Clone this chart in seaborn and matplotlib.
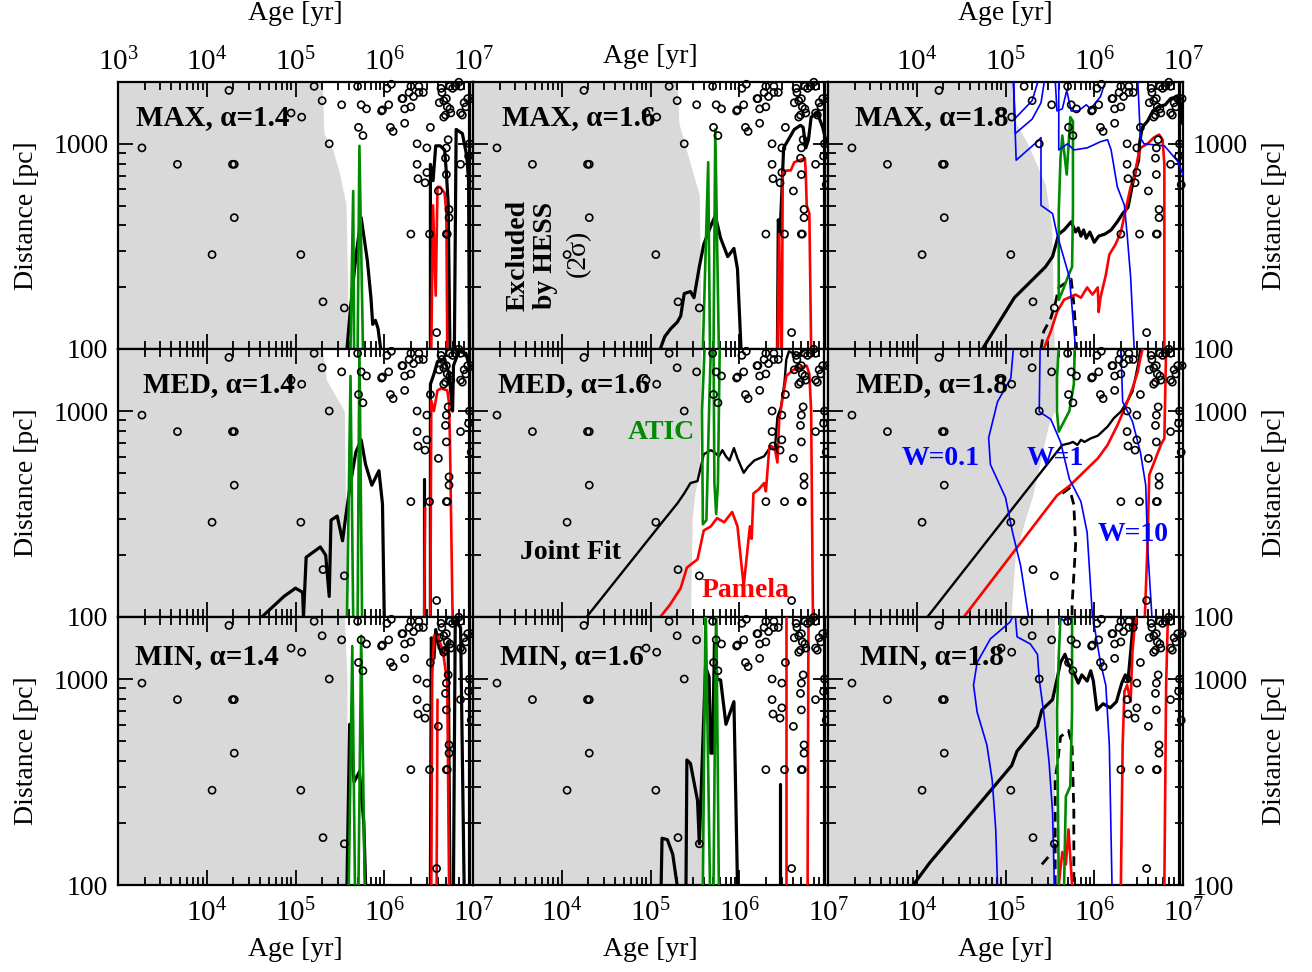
import numpy as np
import matplotlib
matplotlib.use("Agg")
import matplotlib.pyplot as plt
from matplotlib.ticker import FixedLocator
import seaborn as sns

# every curve is a list of (log10 age [yr], log10 distance [pc]) points

age_ticks = [1e3, 1e4, 1e5, 1e6, 1e7]
dist_ticks = [100, 1000]
dist_minor = [200, 300, 400, 500, 600, 700, 800, 900, 2000]

# nearby pulsars (same set in every panel)
pulsar_log_age = [3.27, 3.67, 4.29, 4.31, 4.31, 4.06, 4.25, 4.95, 5.07, 5.06, 5.21, 5.30, 5.38,
                  5.31, 5.55, 5.52, 5.70, 5.71, 5.76, 5.74, 5.80, 5.97, 5.98, 6.05, 6.03, 6.08,
                  6.07, 6.10, 6.20, 6.21, 6.23, 6.30, 6.23, 6.30, 6.39, 6.28, 6.39, 6.33, 6.44,
                  6.37, 6.37, 6.38, 6.48, 6.46, 6.48, 6.52, 6.30, 6.51, 6.70, 6.71, 6.59, 6.61,
                  6.73, 6.86, 6.70, 6.72, 6.69, 6.70, 6.62, 6.67, 6.70, 6.65, 6.74, 6.80, 6.86,
                  6.84, 6.71, 6.74, 6.69, 6.67, 6.75, 6.92, 6.99, 6.88, 6.90, 6.95, 6.96, 6.98,
                  6.64, 6.77, 6.94, 6.86, 6.73]
pulsar_log_dist = [2.98, 2.90, 2.90, 2.90, 2.64, 2.46, 3.26, 3.15, 3.13, 2.46, 3.28, 3.21, 3.00,
                   2.23, 2.20, 3.19, 3.28, 3.08, 3.04, 3.19, 3.17, 3.16, 3.165, 3.19, 3.27, 3.29,
                   3.08, 3.06, 3.22, 3.22, 3.17, 3.18, 3.10, 3.28, 3.28, 3.25, 3.25, 3.23, 3.25,
                   3.00, 2.90, 2.83, 2.98, 2.81, 2.86, 3.08, 2.56, 2.56, 2.56, 2.56, 2.08, 2.77,
                   2.64, 2.90, 2.98, 3.02, 2.93, 2.85, 3.20, 3.21, 3.22, 3.25, 3.28, 3.28, 3.28,
                   3.30, 3.18, 3.17, 3.14, 3.13, 3.15, 3.18, 3.22, 3.14, 3.20, 2.94, 3.00, 2.80,
                   3.27, 3.27, 3.22, 3.15, 2.68]

edge_contour = [(6.96, 2.0), (6.96, 3.31)]

# ---------------- MAX, alpha = 1.4
max14_gray = [(5.60, 2.0), (5.57, 2.7), (5.50, 2.85), (5.42, 2.97), (5.32, 3.05), (5.30, 3.31)]
max14_black_a = [(5.58, 2.0), (5.62, 2.2), (5.68, 2.45), (5.74, 2.64), (5.78, 2.52), (5.81, 2.43),
                 (5.85, 2.25), (5.87, 2.12), (5.90, 2.14), (5.93, 2.10), (5.96, 2.0)]
max14_black_b = [(6.52, 2.0), (6.52, 2.90), (6.55, 2.82), (6.58, 2.99), (6.63, 2.99), (6.68, 2.97),
                 (6.70, 2.86), (6.72, 2.71), (6.74, 2.0)]
max14_black_c = [(6.79, 2.0), (6.81, 3.07), (6.88, 3.05), (6.93, 2.94), (6.95, 2.82), (6.96, 2.0)]
max14_red = [(6.53, 2.0), (6.55, 2.70), (6.58, 2.26), (6.60, 2.79), (6.63, 2.79), (6.68, 2.76),
             (6.70, 2.66), (6.71, 2.0)]
max14_green_a = [(5.62, 2.0), (5.65, 2.77), (5.66, 2.0)]
max14_green_b = [(5.70, 2.0), (5.72, 2.99), (5.76, 2.0)]

# ---------------- MAX, alpha = 1.6
max16_gray = [(5.57, 2.0), (5.55, 2.75), (5.45, 2.9), (5.32, 3.1), (5.30, 3.31)]
max16_black_a = [(5.11, 2.0), (5.16, 2.06), (5.23, 2.10), (5.30, 2.13), (5.34, 2.16), (5.38, 2.27),
                 (5.45, 2.28), (5.49, 2.25), (5.55, 2.40), (5.60, 2.51), (5.68, 2.60), (5.73, 2.65),
                 (5.79, 2.54), (5.87, 2.45), (5.94, 2.49), (5.98, 2.39), (6.02, 2.0)]
max16_black_b = [(6.43, 2.0), (6.44, 2.63), (6.46, 2.56), (6.50, 2.98), (6.54, 3.01), (6.62, 3.07),
                 (6.69, 3.09), (6.72, 3.08), (6.75, 2.98), (6.78, 3.02), (6.81, 3.13), (6.88, 3.15),
                 (6.94, 3.08), (6.98, 3.01)]
max16_red_a = [(6.43, 2.0), (6.45, 2.56), (6.47, 2.0)]
max16_red_b = [(6.48, 2.0), (6.49, 2.86), (6.54, 2.87), (6.58, 2.87), (6.62, 2.91), (6.74, 2.93),
               (6.75, 2.85), (6.76, 2.70), (6.79, 2.66), (6.81, 2.0)]
max16_green_a = [(5.59, 2.0), (5.65, 2.91), (5.67, 2.0)]
max16_green_b = [(5.71, 2.0), (5.73, 3.07), (5.77, 2.0)]

# ---------------- MAX, alpha = 1.8
max18_gray = [(5.55, 2.0), (5.52, 2.6), (5.45, 2.8), (5.35, 2.9), (5.25, 3.0), (5.12, 3.1),
              (5.10, 3.31)]
max18_black = [(4.74, 2.0), (5.10, 2.25), (5.45, 2.40), (5.53, 2.45), (5.60, 2.56), (5.66, 2.58),
               (5.74, 2.62), (5.79, 2.57), (5.82, 2.59), (5.85, 2.55), (5.88, 2.58), (5.91, 2.54),
               (5.95, 2.57), (6.00, 2.52), (6.05, 2.55), (6.12, 2.56), (6.19, 2.58), (6.26, 2.62),
               (6.32, 2.66), (6.38, 2.69), (6.43, 2.80), (6.46, 2.86), (6.50, 2.92), (6.51, 3.0),
               (6.54, 3.08), (6.60, 3.11), (6.66, 3.16), (6.72, 3.18), (6.80, 3.19), (6.86, 3.22),
               (6.93, 3.23), (6.97, 3.20), (6.99, 3.10)]
max18_dashed = [(5.40, 2.0), (5.43, 2.085), (5.51, 2.15), (5.56, 2.22), (5.60, 2.30), (5.74, 2.34),
                (5.77, 2.22), (5.79, 2.10), (5.80, 2.0)]
max18_red = [(5.43, 2.0), (5.51, 2.085), (5.58, 2.18), (5.66, 2.24), (5.79, 2.265), (5.85, 2.25),
             (5.92, 2.30), (5.98, 2.265), (6.04, 2.30), (6.05, 2.18), (6.07, 2.25), (6.13, 2.36),
             (6.17, 2.46), (6.24, 2.51), (6.30, 2.57), (6.35, 2.67), (6.41, 2.79), (6.45, 2.83),
             (6.49, 2.93), (6.52, 2.98), (6.60, 3.00), (6.67, 3.03), (6.73, 3.045), (6.77, 3.02),
             (6.79, 2.90), (6.79, 2.0)]
max18_green = [(5.60, 2.24), (5.60, 2.67), (5.62, 2.93), (5.64, 3.04), (5.69, 2.85), (5.73, 3.13),
               (5.76, 3.11), (5.76, 2.67), (5.75, 2.40), (5.71, 2.36), (5.64, 2.28), (5.60, 2.24)]
max18_blue_a = [(5.09, 3.31), (5.10, 3.12), (5.30, 3.21), (5.37, 3.31)]
max18_blue_b = [(5.09, 3.31), (5.11, 3.05), (5.30, 3.12), (5.40, 3.20), (5.44, 3.31)]
max18_blue_c = [(5.09, 3.31), (5.12, 2.92), (5.33, 3.0), (5.40, 3.03), (5.40, 2.70), (5.53, 2.66),
                (5.58, 2.56), (5.72, 2.35), (5.79, 2.0)]
max18_blue_d = [(5.56, 3.31), (5.58, 3.16), (5.64, 3.17), (5.69, 3.26), (5.74, 3.16), (5.82, 3.16),
                (5.91, 3.19), (5.96, 3.17), (6.07, 3.23), (6.13, 3.31)]
max18_blue_e = [(5.60, 3.31), (5.60, 2.97), (5.70, 3.0), (5.77, 2.97), (5.92, 2.98), (6.07, 3.01),
                (6.15, 3.02), (6.19, 2.97), (6.26, 2.79), (6.34, 2.70), (6.37, 2.56), (6.41, 2.35),
                (6.45, 2.0)]
max18_blue_f = [(6.49, 3.31), (6.52, 3.03), (6.56, 3.0), (6.79, 2.99), (6.94, 2.915), (7.0, 2.85)]

# ---------------- MED, alpha = 1.4
med14_gray = [(5.58, 2.0), (5.55, 3.0), (5.35, 3.15), (5.30, 3.31)]
med14_black_a = [(4.62, 2.0), (4.87, 2.10), (5.00, 2.14), (5.08, 2.12), (5.09, 2.0), (5.12, 2.29),
                 (5.28, 2.34), (5.34, 2.30), (5.38, 2.10), (5.40, 2.47), (5.47, 2.49), (5.53, 2.37),
                 (5.57, 2.50), (5.62, 2.65), (5.68, 2.80), (5.74, 2.86), (5.79, 2.74), (5.86, 2.64),
                 (5.94, 2.71), (5.98, 2.55), (6.00, 2.0)]
med14_black_b = [(6.45, 2.0), (6.45, 2.67)]
med14_black_c = [(6.52, 2.0), (6.52, 3.13), (6.56, 3.18), (6.60, 3.24), (6.68, 3.25), (6.73, 3.18),
                 (6.77, 3.0), (6.78, 3.22), (6.84, 3.29), (6.92, 3.28), (6.97, 3.2)]
med14_red_a = [(6.45, 2.0), (6.46, 2.53)]
med14_red_b = [(6.52, 2.0), (6.53, 3.05), (6.56, 3.0), (6.60, 3.10), (6.64, 3.11), (6.71, 3.10),
               (6.73, 3.04), (6.74, 2.86), (6.77, 2.0)]
med14_green_a = [(5.58, 2.0), (5.62, 3.17), (5.65, 2.0)]
med14_green_b = [(5.70, 2.0), (5.72, 3.31), (5.75, 2.0)]

# ---------------- MED, alpha = 1.6
med16_gray = [(5.45, 2.0), (5.47, 2.48), (5.50, 2.6), (5.55, 2.7), (5.57, 3.31)]
med16_black = [(4.28, 2.0), (5.15, 2.47), (5.30, 2.55), (5.38, 2.60), (5.45, 2.65), (5.53, 2.66),
               (5.60, 2.79), (5.68, 2.81), (5.72, 2.80), (5.77, 2.78), (5.81, 2.81), (5.85, 2.78),
               (5.89, 2.76), (5.94, 2.82), (5.98, 2.77), (6.05, 2.70), (6.10, 2.73), (6.17, 2.76),
               (6.28, 2.78), (6.36, 2.83), (6.40, 2.81), (6.43, 2.97), (6.47, 3.02), (6.51, 3.14),
               (6.53, 3.25), (6.56, 3.29), (6.65, 3.27), (6.75, 3.30)]
med16_red = [(5.11, 2.0), (5.22, 2.06), (5.34, 2.14), (5.41, 2.24), (5.53, 2.28), (5.60, 2.42),
             (5.68, 2.44), (5.75, 2.48), (5.83, 2.46), (5.92, 2.51), (5.98, 2.44), (6.05, 2.15),
             (6.12, 2.44), (6.14, 2.38), (6.16, 2.60), (6.22, 2.62), (6.28, 2.65), (6.30, 2.61),
             (6.34, 2.83), (6.40, 2.82), (6.43, 2.75), (6.45, 2.96), (6.53, 3.17), (6.61, 3.20),
             (6.68, 3.21), (6.76, 3.22), (6.79, 3.18), (6.81, 3.0), (6.83, 2.0)]
med16_green_a = [(5.61, 3.31), (5.58, 3.0), (5.59, 2.45), (5.63, 2.47), (5.66, 3.0), (5.68, 3.31)]
med16_green_b = [(5.71, 3.31), (5.72, 2.65), (5.74, 2.50), (5.76, 2.65), (5.78, 3.31)]

# ---------------- MED, alpha = 1.8
med18_gray = [(5.06, 2.0), (5.11, 2.3), (5.24, 2.5), (5.30, 2.58), (5.35, 2.67), (5.43, 2.83),
              (5.49, 2.94), (5.55, 3.0), (5.58, 3.31)]
med18_black = [(4.12, 2.0), (5.64, 2.835), (5.72, 2.843), (5.76, 2.85), (5.81, 2.835), (5.85, 2.86),
               (5.89, 2.85), (5.96, 2.867), (6.04, 2.88), (6.15, 2.924), (6.22, 2.965), (6.30, 2.997),
               (6.37, 3.045), (6.43, 3.094), (6.47, 3.175), (6.50, 3.24), (6.52, 3.31)]
med18_dashed = [(5.64, 2.60), (5.72, 2.625), (5.77, 2.545), (5.79, 2.35), (5.75, 2.06), (5.75, 2.0)]
med18_red_a = [(4.53, 2.0), (5.58, 2.59), (5.73, 2.64), (5.92, 2.72), (6.04, 2.77), (6.15, 2.835),
               (6.26, 2.93), (6.36, 3.03), (6.43, 3.11), (6.49, 3.19), (6.52, 3.257), (6.55, 3.31)]
med18_red_b = [(6.81, 3.31), (6.79, 2.867), (6.75, 2.835), (6.62, 2.69), (6.60, 2.35), (6.57, 2.0)]
med18_green = [(5.60, 3.31), (5.58, 3.16), (5.58, 2.997), (5.60, 2.90), (5.66, 2.95), (5.72, 3.0),
               (5.77, 3.13), (5.78, 3.31)]
med18_blue_w01 = [(5.09, 3.31), (5.06, 3.16), (4.91, 3.045), (4.81, 2.87), (4.83, 2.74), (5.00, 2.58),
                  (5.08, 2.41), (5.17, 2.25), (5.26, 2.0)]
med18_blue_w1 = [(5.39, 3.31), (5.38, 2.997), (5.51, 2.96), (5.62, 2.85), (5.72, 2.67), (5.85, 2.56),
                 (5.92, 2.41), (5.98, 2.0)]
med18_blue_w10 = [(6.30, 3.31), (6.32, 3.045), (6.43, 2.95), (6.52, 2.80), (6.58, 2.64), (6.60, 2.35),
                  (6.65, 2.0)]

# ---------------- MIN, alpha = 1.4
min14_gray = [(5.58, 2.0), (5.58, 3.0), (5.55, 3.31)]
min14_black_a = [(5.58, 2.0), (5.61, 2.78), (5.66, 2.5), (5.72, 2.55), (5.77, 2.3), (5.79, 2.0)]
min14_black_b = [(6.52, 2.0), (6.53, 3.20), (6.56, 3.10), (6.58, 3.24), (6.62, 3.15), (6.66, 3.12),
                 (6.72, 3.18), (6.74, 2.0)]
min14_black_c = [(6.78, 2.0), (6.80, 3.28), (6.86, 3.25), (6.90, 2.0)]
min14_red_a = [(6.53, 2.0), (6.54, 3.01), (6.56, 3.21), (6.60, 3.21), (6.66, 3.14), (6.71, 2.98),
               (6.73, 2.0)]
min14_red_b = [(6.59, 2.0), (6.60, 2.9)]
min14_green_a = [(5.60, 2.0), (5.64, 3.16), (5.67, 2.0)]
min14_green_b = [(5.71, 2.0), (5.74, 3.21), (5.78, 2.0)]

# ---------------- MIN, alpha = 1.6
min16_gray = [(5.59, 2.0), (5.59, 3.31)]
min16_black_a = [(5.12, 2.0), (5.13, 2.227), (5.19, 2.22), (5.25, 2.15), (5.30, 2.0)]
min16_black_b = [(5.40, 2.0), (5.41, 2.607), (5.45, 2.59), (5.53, 2.41), (5.55, 2.20), (5.57, 2.445),
                 (5.62, 3.06), (5.66, 3.01), (5.68, 2.64), (5.70, 2.64), (5.72, 3.17), (5.75, 3.0),
                 (5.79, 2.995), (5.85, 2.78), (5.94, 2.89), (5.98, 2.0)]
min16_black_c = [(6.46, 2.0), (6.46, 2.49)]
min16_red_a = [(6.53, 2.0), (6.53, 3.31)]
min16_red_b = [(6.77, 2.0), (6.78, 3.31)]
min16_green_a = [(5.59, 2.0), (5.62, 3.4), (5.67, 2.0)]
min16_green_b = [(5.71, 2.0), (5.74, 3.4), (5.77, 2.0)]

# ---------------- MIN, alpha = 1.8
min18_gray = [(5.56, 2.0), (5.56, 3.31)]
min18_black = [(3.96, 2.0), (4.15, 2.11), (5.07, 2.58), (5.13, 2.65), (5.36, 2.77), (5.41, 2.85),
               (5.53, 2.90), (5.58, 2.998), (5.62, 3.08), (5.67, 3.12), (5.71, 3.07), (5.77, 3.03),
               (5.82, 2.98), (5.86, 3.02), (5.92, 2.99), (5.96, 3.04), (5.99, 2.99), (6.03, 2.85),
               (6.10, 2.88), (6.18, 2.86), (6.25, 2.89), (6.31, 2.98), (6.35, 3.02), (6.38, 2.99),
               (6.41, 3.13), (6.43, 3.23), (6.45, 3.31)]
min18_dashed_a = [(5.41, 2.10), (5.49, 2.14)]
min18_dashed_b = [(5.56, 2.0), (5.56, 2.51), (5.60, 2.64), (5.62, 2.72), (5.71, 2.75), (5.75, 2.68),
                  (5.77, 2.355), (5.77, 2.0)]
min18_green_a = [(5.60, 2.0), (5.58, 2.84), (5.60, 3.11), (5.62, 3.31)]
min18_green_b = [(5.66, 2.0), (5.68, 2.43), (5.73, 2.48), (5.75, 2.84), (5.75, 3.31)]
min18_red_a = [(5.60, 2.0), (5.64, 2.16), (5.68, 2.10), (5.71, 2.27), (5.75, 2.0)]
min18_red_b = [(6.30, 2.0), (6.32, 2.68), (6.34, 2.94), (6.37, 2.97), (6.41, 2.89), (6.43, 3.13),
               (6.45, 3.23), (6.48, 3.31)]
min18_red_c = [(6.83, 3.31), (6.81, 2.97), (6.79, 2.0)]
min18_blue_a = [(5.09, 3.31), (5.05, 3.276), (4.83, 3.195), (4.68, 3.08), (4.64, 2.97), (4.68, 2.84),
                (4.79, 2.68), (4.85, 2.51), (4.89, 2.27), (4.91, 2.0)]
min18_blue_b = [(5.11, 3.31), (5.13, 3.205), (5.28, 3.17), (5.36, 3.12), (5.38, 2.998), (5.43, 2.84),
                (5.49, 2.60), (5.53, 2.355), (5.55, 2.0)]
min18_blue_c = [(5.98, 3.31), (6.07, 3.08), (6.13, 2.97), (6.17, 2.68), (6.20, 2.0)]
min18_blue_d = [(5.62, 3.31), (5.64, 3.285), (5.72, 3.29), (5.78, 3.31)]

panel_titles = [["MAX, α=1.4", "MAX, α=1.6", "MAX, α=1.8"],
                ["MED, α=1.4", "MED, α=1.6", "MED, α=1.8"],
                ["MIN, α=1.4", "MIN, α=1.6", "MIN, α=1.8"]]

panels = [
    [dict(gray=max14_gray, black=[max14_black_a, max14_black_b, max14_black_c], red=[max14_red],
          green=[max14_green_a, max14_green_b], blue=[], dashed=[]),
     dict(gray=max16_gray, black=[max16_black_a, max16_black_b], red=[max16_red_a, max16_red_b],
          green=[max16_green_a, max16_green_b], blue=[], dashed=[]),
     dict(gray=max18_gray, black=[max18_black], red=[max18_red], green=[max18_green],
          blue=[max18_blue_a, max18_blue_b, max18_blue_c, max18_blue_d, max18_blue_e, max18_blue_f],
          dashed=[max18_dashed])],
    [dict(gray=med14_gray, black=[med14_black_a, med14_black_b, med14_black_c],
          red=[med14_red_a, med14_red_b], green=[med14_green_a, med14_green_b], blue=[], dashed=[]),
     dict(gray=med16_gray, black=[med16_black], red=[med16_red],
          green=[med16_green_a, med16_green_b], blue=[], dashed=[]),
     dict(gray=med18_gray, black=[med18_black], red=[med18_red_a, med18_red_b], green=[med18_green],
          blue=[med18_blue_w01, med18_blue_w1, med18_blue_w10], dashed=[med18_dashed])],
    [dict(gray=min14_gray, black=[min14_black_a, min14_black_b, min14_black_c],
          red=[min14_red_a, min14_red_b], green=[min14_green_a, min14_green_b], blue=[], dashed=[]),
     dict(gray=min16_gray, black=[min16_black_a, min16_black_b, min16_black_c],
          red=[min16_red_a, min16_red_b], green=[min16_green_a, min16_green_b], blue=[], dashed=[]),
     dict(gray=min18_gray, black=[min18_black], red=[min18_red_a, min18_red_b, min18_red_c],
          green=[min18_green_a, min18_green_b],
          blue=[min18_blue_a, min18_blue_b, min18_blue_c, min18_blue_d],
          dashed=[min18_dashed_a, min18_dashed_b])],
]

GRAY = "#d9d9d9"
GREEN = "#008b00"

sns.set_theme(style="ticks")
plt.rcParams["font.family"] = ["Liberation Serif", "DejaVu Serif"]
plt.rcParams["mathtext.default"] = "regular"
plt.rcParams["axes.linewidth"] = 1.6
plt.rcParams["axes.edgecolor"] = "black"
plt.rcParams["text.color"] = "black"
plt.rcParams["axes.labelcolor"] = "black"
plt.rcParams["xtick.color"] = "black"
plt.rcParams["ytick.color"] = "black"
plt.rcParams["lines.dashed_pattern"] = [3.5, 2.2]


def xy(pts):
    arr = np.asarray(pts, dtype=float)
    return 10 ** arr[:, 0], 10 ** arr[:, 1]


def curve(ax, pts, color, lw, ls="-"):
    x, y = xy(pts)
    sns.lineplot(x=x, y=y, ax=ax, color=color, linewidth=lw, linestyle=ls,
                 sort=False, estimator=None, legend=False, zorder=3)


fig = plt.figure(figsize=(13.12, 9.72), dpi=100)
W, H = 1312, 972
col_left = [118, 473, 828]
row_top = [82, 349, 617]
row_h = [267, 268, 268]
title_pos = [[(0.051, 0.865), (0.082, 0.865), (0.076, 0.865)],
             [(0.070, 0.866), (0.070, 0.866), (0.079, 0.866)],
             [(0.048, 0.854), (0.076, 0.854), (0.090, 0.854)]]
FS = 20

for r in range(3):
    for c in range(3):
        ax = fig.add_axes([col_left[c] / W, 1 - (row_top[r] + row_h[r]) / H, 355 / W, row_h[r] / H])
        ax.set_xscale("log")
        ax.set_yscale("log")
        p = panels[r][c]

        ga, gd = xy(p["gray"])
        ax.fill_betweenx(gd, 1e3, ga, color=GRAY, lw=0, zorder=0)

        lw_black = 1.7 if (r == 1 and c > 0) else 2.3
        for seg in p["black"] + [edge_contour]:
            curve(ax, seg, "black", lw_black)
        for seg in p["dashed"]:
            curve(ax, seg, "black", 2.0, "--")
        for seg in p["red"]:
            curve(ax, seg, "red", 1.9)
        for seg in p["green"]:
            curve(ax, seg, GREEN, 1.9)
        for seg in p["blue"]:
            curve(ax, seg, "blue", 1.2)

        sns.scatterplot(x=10 ** np.array(pulsar_log_age), y=10 ** np.array(pulsar_log_dist), ax=ax,
                        marker="o", s=26, facecolor="none", edgecolor="black", linewidth=1.2,
                        clip_on=False, zorder=4, legend=False)

        ax.set_xlim(1e3, 1e7)
        ax.set_ylim(100, 2000)
        ax.set_xlabel("")
        ax.set_ylabel("")

        # ticks
        ax.xaxis.set_major_locator(FixedLocator(age_ticks))
        ax.xaxis.set_minor_locator(FixedLocator([m * t for t in age_ticks[:-1] for m in range(2, 10)]))
        xlabels = ["$10^{%d}$" % int(round(np.log10(t))) for t in age_ticks]
        if not (r == 0 and c == 0):
            xlabels[0] = ""
        ax.set_xticks(age_ticks, labels=xlabels)
        ax.yaxis.set_major_locator(FixedLocator(dist_ticks))
        ax.yaxis.set_minor_locator(FixedLocator(dist_minor))
        ax.set_yticks(dist_ticks, labels=["100", "1000"])
        ax.tick_params(which="both", direction="in", top=True, bottom=True, left=True, right=True,
                       labelbottom=(r == 2), labeltop=(r == 0 and c != 1),
                       labelleft=(c == 0), labelright=(c == 2), labelsize=FS, width=1.3)
        ax.tick_params(axis="x", labelsize=21)
        ax.tick_params(which="major", length=11)
        ax.tick_params(which="minor", length=6)
        ax.tick_params(axis="y", pad=7)
        ax.tick_params(axis="x", pad=10 if r == 2 else 4)

        if r == 2:
            ax.set_xlabel("Age [yr]", fontsize=FS, labelpad=7)
        if r == 0:
            ax.set_xlabel("Age [yr]", fontsize=FS, labelpad=(14 if c == 1 else 20))
            ax.xaxis.set_label_position("top")
        if c == 0:
            ax.set_ylabel("Distance [pc]", fontsize=FS, labelpad=10)
        if c == 2:
            ax.set_ylabel("Distance [pc]", fontsize=FS, labelpad=10)
            ax.yaxis.set_label_position("right")

        tx, ty = title_pos[r][c]
        ax.text(tx, ty, panel_titles[r][c], transform=ax.transAxes, fontsize=21, color="black",
                fontweight="bold", ha="left", va="center", zorder=5)

        if r == 0 and c == 1:
            ax.text(0.165, 0.352, "Excluded\nby HESS", transform=ax.transAxes, fontsize=20,
                    fontweight="bold", rotation=90, ha="center", va="center", color="black",
                    multialignment="center", linespacing=1.15, zorder=5)
            ax.text(0.296, 0.36, "(2σ)", transform=ax.transAxes, fontsize=20, color="black",
                    rotation=90, ha="center", va="center", zorder=5)
        if r == 1 and c == 1:
            ax.text(0.437, 0.69, "ATIC", transform=ax.transAxes, fontsize=20, fontweight="bold",
                    color=GREEN, ha="left", va="center", zorder=5)
            ax.text(0.132, 0.239, "Joint Fit", transform=ax.transAxes, fontsize=20,
                    fontweight="bold", color="black", ha="left", va="center", zorder=5)
            ax.text(0.645, 0.10, "Pamela", transform=ax.transAxes, fontsize=20, fontweight="bold",
                    color="red", ha="left", va="center", zorder=5)
        if r == 1 and c == 2:
            ax.text(0.208, 0.593, "W=0.1", transform=ax.transAxes, fontsize=20, fontweight="bold",
                    color="blue", ha="left", va="center", zorder=5)
            ax.text(0.56, 0.593, "W=1", transform=ax.transAxes, fontsize=20, fontweight="bold",
                    color="blue", ha="left", va="center", zorder=5)
            ax.text(0.76, 0.306, "W=10", transform=ax.transAxes, fontsize=20, fontweight="bold",
                    color="blue", ha="left", va="center", zorder=5)

fig.savefig("out.png", dpi=100)
